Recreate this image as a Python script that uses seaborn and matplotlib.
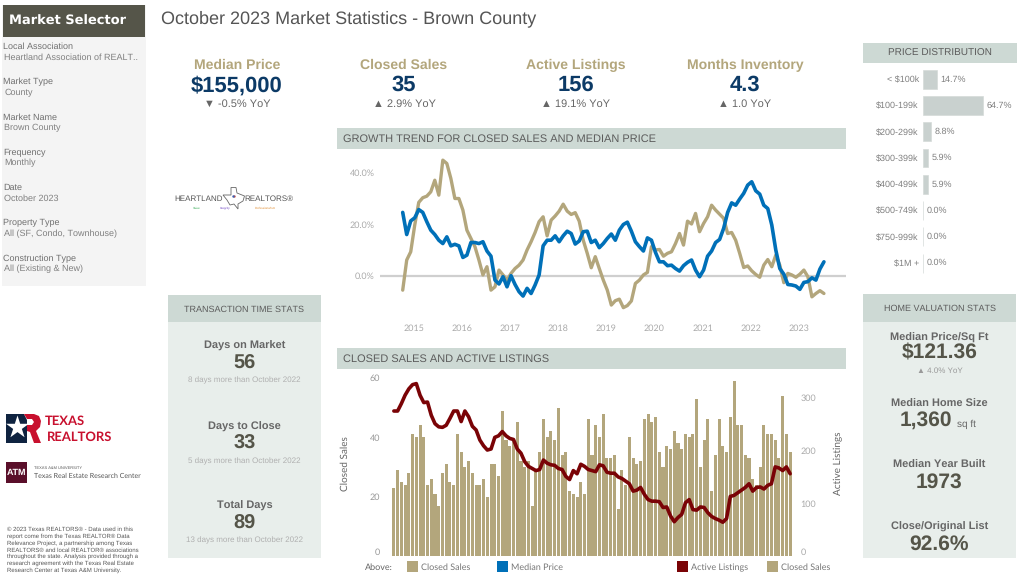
import numpy as np
import pandas as pd
import matplotlib.pyplot as plt
from matplotlib.patches import Rectangle, Polygon
import seaborn as sns

# monthly data
closed_sales = [23,29,25,24,28,41,40,44,40,24,26,21,17,28,31,25,24,41,35,30,32,28,24,24,26,20,31,31,27,49,
                39,37,39,45,32,30,32,17,29,35,46,40,42,39,50,34,35,22,21,20,25,21,46,
                34,44,40,48,33,33,34,16,29,24,40,33,31,32,46,48,45,47,35,30,37,36,42,38,36,41,40,41,53,
                30,39,46,22,34,46,37,35,47,59,44,44,34,33,26,24,30,44,41,41,39,33,54,41,35]
active_listings = [275,275,289,305,317,325,327,305,291,292,267,251,245,244,248,261,275,275,255,275,
                   264,246,239,220,209,201,203,225,228,236,228,223,221,203,195,179,170,166,162,164,
                   182,176,173,172,166,164,151,145,162,156,174,170,164,
                   162,160,173,171,159,157,157,150,147,142,137,123,125,130,117,107,104,104,103,92,93,
                   76,65,73,79,101,107,88,87,93,92,82,75,71,68,64,71,113,115,120,125,130,137,123,130,
                   131,127,134,137,169,167,162,169,156]
sales_growth = [-5.6,6.1,9.3,19.7,28.5,30.3,30.9,32.6,37.1,31.3,44.9,43.6,37.8,30.0,30.0,25.5,17.7,14.5,11.3,6.1,
                0.3,3.5,-5.6,-4.3,2.2,0.3,-1.7,0.9,2.8,4.1,6.1,10.0,13.2,16.8,21.0,22.9,15.5,21.6,23.2,25.1,
                27.8,25.1,23.8,24.5,21.2,13.8,8.7,3.1,7.4,2.8,-1.7,-5.6,-11.4,-9.7,-9.1,-12.4,-11.6,-9.8,-3.0,-1.7,
                0.3,1.3,11.3,10.0,10.2,7.6,8.7,9.3,12.5,16.4,11.9,21.2,20.1,24.2,17.1,20.3,22.9,27.4,25.5,23.9,
                22.3,16.4,16.8,13.8,8.7,3.2,3.8,1.9,0.5,-0.6,4.1,6.3,3.5,8.0,4.1,-2.7,0.9,0.3,-0.6,0.6,
                2.2,-0.4,-8.2,-6.9,-5.8,-6.9]
price_growth = [24.6,16.0,21.3,22.5,25.7,24.6,21.0,17.7,16.0,13.8,12.5,15.1,11.6,12.2,11.6,7.1,8.0,12.9,12.9,12.5,
                13.2,9.6,7.6,-1.7,-3.2,-0.4,-4.3,0.0,-3.4,-6.2,-7.9,-4.9,-6.9,-3.6,0.3,11.6,13.8,13.8,15.5,13.2,
                15.5,17.3,16.4,12.3,13.5,17.1,17.3,12.9,13.8,10.9,12.5,14.5,16.2,13.8,17.7,19.9,20.8,17.3,13.2,11.3,
                9.6,14.7,13.8,9.1,5.4,5.4,3.9,4.1,2.8,1.8,3.9,5.2,6.1,2.2,-0.4,2.2,7.6,9.6,12.9,14.1,
                18.4,24.6,28.3,27.4,29.8,32.0,35.2,36.5,33.0,31.7,27.4,26.1,19.7,10.0,2.8,0.6,-3.4,-3.6,-4.0,-5.3,
                -2.6,-2.3,-0.8,-1.7,2.6,5.4]
years = ["2015","2016","2017","2018","2019","2020","2021","2022","2023"]
price_bins = ["< $100k","$100-199k","$200-299k","$300-399k","$400-499k","$500-749k","$750-999k","$1M +"]
price_share = [14.7,64.7,8.8,5.9,5.9,0.0,0.0,0.0]

GOLD = "#b3a67c"
BLUE = "#0070b8"
RED = "#7a0306"
HEAD = "#cdd9d4"
PANEL = "#e8eeeb"
ARIAL = "Liberation Sans"

sns.set_theme(style="white")
plt.rcParams['font.family'] = ['Liberation Sans', 'DejaVu Sans']
plt.rcParams['text.hinting'] = 'none'
plt.rcParams['text.hinting_factor'] = 1

W, H = 1024, 576
fig = plt.figure(figsize=(W/100, H/100), dpi=100)


def px_axes(left, top, right, bottom, **kw):
    a = fig.add_axes([left/W, 1-bottom/H, (right-left)/W, (bottom-top)/H], **kw)
    a.patch.set_alpha(0)
    return a


# background layer in pixel coords, panels, text and logos go here
bg = px_axes(0, 0, W, H)
bg.set_xlim(0, W)
bg.set_ylim(H, 0)
bg.axis("off")


def box(x0, y0, x1, y1, c):
    bg.add_patch(Rectangle((x0, y0), x1-x0, y1-y0, fc=c, ec="none"))


def txt(x, y, s, size=7, color="#666666", weight="normal", ha="center", family=None, **kw):
    bg.text(x, y, s, fontsize=size, color=color, fontweight=weight, ha=ha, va="center",
            family=family or ARIAL, **kw)


txt(161, 19, "October 2023 Market Statistics - Brown County", 13, "#555555", ha="left")

# market selector
box(2, 5, 146, 286, "#f4f4f4")
box(3, 5, 145, 37, "#555549")
txt(9, 21, "Market Selector", 9.2, "white", "bold", ha="left", family="DejaVu Sans")
selector = [("Local Association", "Heartland Association of REALT.."), ("Market Type", "County"),
            ("Market Name", "Brown County"), ("Frequency", "Monthly"), ("Date", "October 2023"),
            ("Property Type", "All (SF, Condo, Townhouse)"), ("Construction Type", "All (Existing & New)")]
for i, (a, b) in enumerate(selector):
    txt(3, 46.8+35.3*i, a, 6.5, "#707070", ha="left")
    txt(4.5, 57.3+35.3*i, b, 6.5, "#808080", ha="left")

# kpis
kpis = [(237, "Median Price", "$155,000", "▼ -0.5% YoY"), (404, "Closed Sales", "35", "▲ 2.9% YoY"),
        (576, "Active Listings", "156", "▲ 19.1% YoY"), (745, "Months Inventory", "4.3", "▲ 1.0 YoY")]
for x, a, b, c in kpis:
    txt(x, 65.3, a, 10.3, GOLD, "bold")
    txt(x, 85.5, b, 15.5, "#0c3a66", "bold")
    txt(x, 104, c, 7.8, "#666666", family=[ARIAL, "DejaVu Sans"])

# heartland logo
txt(198.5, 199, "HEARTLAND", 5.5, "#555555")
bg.add_patch(Polygon([(223, 195), (231, 195), (231, 187.5), (236, 187.5), (237, 193), (244.5, 196), (243, 201),
                      (238, 204), (238, 209), (234, 204), (230, 205), (227, 200)], fc="white", ec="#666666", lw=0.6))
txt(269, 199, "REALTORS®", 5.6, "#555555")
bg.scatter([234], [196], s=3, c="#c8504a", linewidths=0, zorder=3)
bg.scatter([232.5], [196], s=3, c="#3a5fb0", linewidths=0, zorder=3)
txt(197, 208, "Value", 2.2, "#2fa84f")
txt(225, 208, "Integrity", 2.2, "#6a3fc0")
txt(265, 208, "Professionalism", 2.2, "#e08a2c")

# texas realtors and a&m logos, footer
bg.add_patch(Polygon([(6, 414), (24, 414), (27, 420), (27, 443), (6, 443)], fc="#0f2340", ec="none"))
bg.scatter([17], [427], marker="*", s=300, c="white", linewidths=0, zorder=3)
bg.add_patch(Polygon([(24, 414), (34, 414), (39, 416), (41, 421), (40, 427), (36, 431), (41, 443), (34, 443),
                      (30, 432), (27, 431), (27, 425), (32, 425), (34, 422), (32, 419), (27, 419)],
                     fc="#c8102e", ec="none", zorder=4))
txt(45, 421, "TEXAS", 9.4, "#c8102e", "bold", ha="left", family="Lato")
txt(46.5, 437, "REALTORS", 9.6, "#c8102e", "bold", ha="left", family="Lato")
box(6, 462, 27, 483, "#5a0f2a")
txt(16.5, 472.5, "ATM", 6.5, "white", "bold")
txt(34, 467.5, "TEXAS A&M UNIVERSITY", 2.9, "#555555", ha="left")
txt(34, 476, "Texas Real Estate Research Center", 5.25, "#555555", ha="left", family="Lato")
footer = ["© 2023 Texas REALTORS® - Data used in this", "report come from the Texas REALTOR® Data",
          "Relevance Project, a partnership among Texas", "REALTORS® and local REALTOR® associations",
          "throughout the state. Analysis provided through a", "research agreement with the Texas Real Estate",
          "Research Center at Texas A&M University."]
for i, line in enumerate(footer):
    txt(7, 529.5+6.8*i, line, 4.5, "#555555", ha="left")

# transaction stats panel
box(168, 295, 321, 558, PANEL)
box(168, 295, 321, 322, HEAD)
txt(244.5, 309.5, "TRANSACTION TIME STATS", 6.7, "#5c5c5c")
stats = [(346.3, "Days on Market", "56", "8 days more than October 2022"),
         (426.8, "Days to Close", "33", "5 days more than October 2022"),
         (506.3, "Total Days", "89", "13 days more than October 2022")]
for y, a, b, c in stats:
    txt(244.5, y, a, 8, "#666666", "bold")
    txt(244.5, y+17, b, 14.5, "#555549", "bold")
    txt(244.5, y+34, c, 5.8, "#b0b0b0")

# valuation panel
box(863, 294, 1016, 558, PANEL)
box(863, 294, 1016, 322, HEAD)
txt(939.5, 308.5, "HOME VALUATION STATS", 6.7, "#5c5c5c")
txt(939.5, 337.5, "Median Price/Sq Ft", 8, "#666666", "bold")
txt(939.5, 353.5, "$121.36", 14.8, "#555549", "bold")
txt(939.5, 371, "▲ 4.0% YoY", 5.8, "#999999", family=[ARIAL, "DejaVu Sans"])
txt(939.5, 404, "Median Home Size", 8, "#666666", "bold")
txt(925.7, 420.5, "1,360", 14.8, "#555549", "bold")
txt(966, 424, "sq ft", 7.5, "#666666")
txt(939.5, 465.5, "Median Year Built", 8, "#666666", "bold")
txt(939.5, 482.5, "1973", 14.8, "#555549", "bold")
txt(939.5, 527, "Close/Original List", 8, "#666666", "bold")
txt(939.5, 544.5, "92.6%", 14.8, "#555549", "bold")

# section headers
box(863, 43, 1017, 63, HEAD)
txt(940, 53.8, "PRICE DISTRIBUTION", 6.9, "#5c5c5c")
box(337, 128, 846, 149, HEAD)
txt(343, 139.3, "GROWTH TREND FOR CLOSED SALES AND MEDIAN PRICE", 8, "#5c5c5c", ha="left")
box(337, 348, 846, 369, HEAD)
txt(343, 359.3, "CLOSED SALES AND ACTIVE LISTINGS", 8, "#5c5c5c", ha="left")

# growth trend
growth = pd.DataFrame({"month": np.arange(len(sales_growth)), "sales": sales_growth, "price": price_growth})
ax1 = px_axes(380, 155, 846, 320)
ax1.axhline(0, color="#cfcfcf", lw=1.6, zorder=1)
sns.lineplot(data=growth, x="month", y="sales", color=GOLD, lw=2.4, ax=ax1, zorder=2)
sns.lineplot(data=growth, x="month", y="price", color=BLUE, lw=2.6, ax=ax1, zorder=3)
ax1.set_xlim(-5.66, 110.5)
ax1.set_ylim(-17.2, 46.9)
ax1.set_xticks(2.74+12*np.arange(len(years)))
ax1.set_xticklabels(years)
ax1.set_yticks([0, 20, 40])
ax1.set_yticklabels(["0.0%", "20.0%", "40.0%"])
ax1.tick_params(axis="both", length=0, labelsize=6.5, labelcolor="#aaaaaa")
ax1.tick_params(axis="x", pad=3)
ax1.tick_params(axis="y", pad=4)
for lab in ax1.get_xticklabels()+ax1.get_yticklabels():
    lab.set_family("Lato")
ax1.set_xlabel("")
ax1.set_ylabel("")
sns.despine(ax=ax1, left=True, bottom=True)

# closed sales and listings
months = np.arange(len(closed_sales))
ax2 = px_axes(392, 372, 792, 556)
sns.barplot(x=months, y=closed_sales, color=GOLD, saturation=1, width=0.82, linewidth=0, ax=ax2)
ax2.set_xlim(-0.5, len(closed_sales)-0.5)
ax2.set_ylim(0, 62)
ax2.set_xticks([])
ax2.set_yticks([0, 20, 40, 60])
ax2.tick_params(axis="y", length=0, labelsize=6.8, labelcolor="#999999", pad=8.5)
ax2.set_xlabel("")
ax2.set_ylabel("Closed Sales", fontsize=7.2, color="#666666", family="Lato")
ax2.yaxis.set_label_coords(-0.105, 0.505)
ax3 = ax2.twinx()
ax3.patch.set_alpha(0)
sns.lineplot(x=months, y=active_listings, color=RED, lw=2.6, ax=ax3)
ax3.set_ylim(0, 349)
ax3.set_yticks([0, 100, 200, 300])
ax3.tick_params(axis="y", length=0, labelsize=6.8, labelcolor="#aaaaaa", pad=6)
ax3.set_ylabel("Active Listings", fontsize=7.2, color="#666666", family="Lato")
ax3.yaxis.set_label_coords(1.105, 0.505)
ax2.get_yticklabels()[0].set_va("bottom")
ax3.get_yticklabels()[0].set_va("bottom")
for a in (ax2, ax3):
    for lab in a.get_yticklabels():
        lab.set_family("Lato")
    sns.despine(ax=a, left=True, bottom=True, right=True)

# legend row
txt(365, 567.5, "Above:", 6.5, "#666666", ha="left", family="Lato")
legend_items = [(407, GOLD, "Closed Sales"), (497, BLUE, "Median Price"), (677, RED, "Active Listings"), (767, GOLD, "Closed Sales")]
for x, c, s in legend_items:
    box(x, 561, x+10.5, 572, c)
    txt(x+14, 567.5, s, 6.5, "#777777", ha="left", family="Lato")

# price distribution
ax4 = px_axes(923, 66.15, 1020, 276.2)
sns.barplot(x=price_share, y=price_bins, color="#c9d1cf", saturation=1, width=0.72, orient="h",
            edgecolor="#d5dbd9", linewidth=0.5, ax=ax4)
ax4.set_xlim(0, 104.6)
ax4.bar_label(ax4.containers[0], labels=[f"{v:.1f}%" for v in price_share], padding=2.5, fontsize=6.6, color="#808080")
ax4.tick_params(axis="y", length=0, labelsize=6.2, labelcolor="#808080", pad=3)
ax4.set_xticks([])
ax4.set_xlabel("")
ax4.set_ylabel("")
sns.despine(ax=ax4, left=True, bottom=True)

fig.savefig("out.png", dpi=100)
